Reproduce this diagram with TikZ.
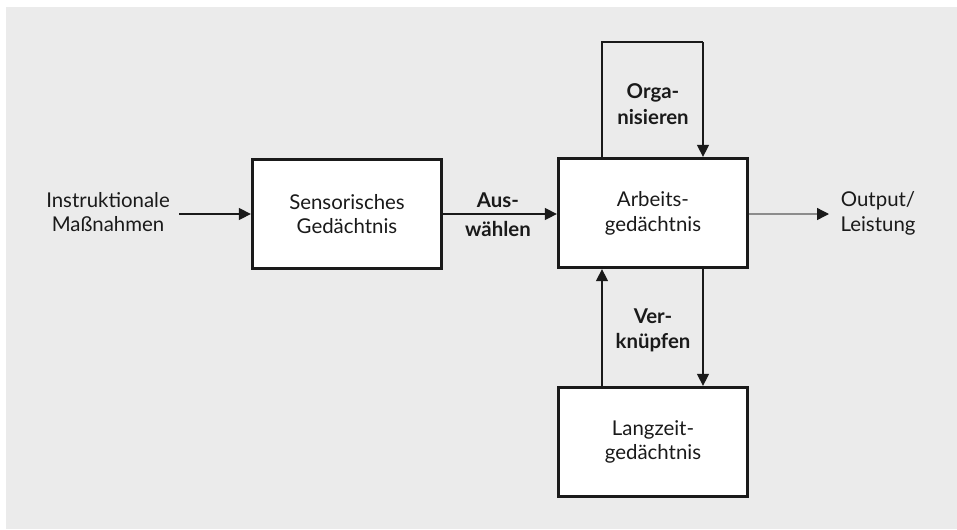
\documentclass[tikz,border=0pt]{standalone}
\usepackage{fontspec}
\setmainfont{Lato}
\usetikzlibrary{arrows.meta}
\definecolor{panel}{HTML}{EBEBEB}
\definecolor{outline}{HTML}{1A1A1A}
\definecolor{outgray}{HTML}{8C8C8C}
\begin{document}
\begin{tikzpicture}[x=0.75pt,y=-0.75pt,
  every node/.style={font=\fontsize{15.3}{18.6}\selectfont, align=center, text=outline},
  memory/.style={draw=outline, line width=2.2pt, fill=white, minimum width=142pt, minimum height=82pt, inner sep=0pt},
  tip/.style={-{Triangle[length=9pt,width=9pt,color=outline,fill=outline]}},
  flow/.style={draw=outline, line width=1pt, tip},
  plain/.style={draw=outline, line width=1pt},
  verb/.style={font=\fontsize{15.3}{19}\selectfont\bfseries}]
  \useasboundingbox (0,0) rectangle (957,529);
  \fill[panel] (6,7) rectangle (957,529);

  % memory stores
  \node[memory] (sens) at (347,214) {Sensorisches\\Gedächtnis};
  \node[memory] (arb)  at (653,213) {Arbeits-\\gedächtnis};
  \node[memory] (lang) at (653,442) {Langzeit-\\gedächtnis};

  % outer texts
  \node (input)  at (108,212) {Instruktionale\\Maßnahmen};
  \node (output) at (878,213) {Output/\\Leistung};

  % anchor points for the loops
  \coordinate (inS)  at (179,214);
  \coordinate (outE) at (829,214);
  \coordinate (orgL) at (602,42);
  \coordinate (orgR) at (703,42);

  % main chain
  \draw[flow] (inS) -- (sens.west |- inS);
  \draw[flow] (sens.east |- inS) -- (arb.west |- inS);
  \draw[draw=outgray, line width=1pt, tip] (arb.east |- outE) -- (outE);

  % organising loop
  \draw[plain] (arb.north -| orgL) -- (orgL) -- (orgR);
  \draw[flow] (orgR) -- (arb.north -| orgR);

  % integration with long-term memory
  \draw[flow] (lang.north -| orgL) -- (arb.south -| orgL);
  \draw[flow] (arb.south -| orgR) -- (lang.north -| orgR);

  % process labels
  \node[verb, font=\fontsize{15.3}{22}\selectfont\bfseries] (ausw) at (498,215) {Aus-\\wählen};
  \node[verb] (orga) at (653,104) {Orga-\\nisieren};
  \node[verb] (verk) at (653,330) {Ver-\\knüpfen};
\end{tikzpicture}
\end{document}
